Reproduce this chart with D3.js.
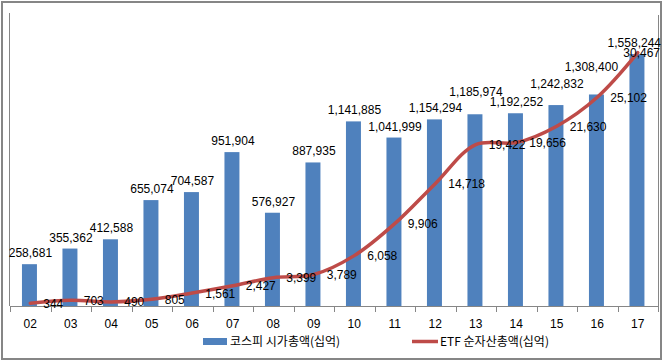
<!DOCTYPE html>
<html>
<head>
<meta charset="utf-8">
<script src="https://cdn.jsdelivr.net/npm/d3@7"></script>
<style>
  body { margin: 0; background: #fff; }
  svg text { font-family: "Liberation Sans", Arial, sans-serif; font-size: 12px; fill: #000; }
  .legend text { font-family: "Noto Sans CJK KR", "Liberation Sans", sans-serif; }
</style>
</head>
<body>
<div id="chart"></div>
<script>
  var years = ["02","03","04","05","06","07","08","09","10","11","12","13","14","15","16","17"];
  var kospiCap = [258681,355362,412588,655074,704587,951904,576927,887935,1141885,1041999,1154294,1185974,1192252,1242832,1308400,1558244];
  var etfAssets = [344,703,490,805,1561,2427,3399,3789,6058,9906,14718,19422,19656,21630,25102,30467];
  var seriesNames = ["코스피 시가총액(십억)", "ETF 순자산총액(십억)"];

(function() {
  var width = 665, height = 362;
  var plotLeft = 10, plotRight = 658, base = 306, plotTop = 15;

  // labels moved by hand in the original so they don't collide
  var labelNudges = { "13": [0, -11], "15": [0, -10], "16": [-6, -16] };

  var svg = d3.select("#chart")
            .append("svg")
            .attr("width", width)
            .attr("height", height);

  // outer frame
  svg.append("rect")
      .attr("x", 2).attr("y", 2)
      .attr("width", 659).attr("height", 357)
      .attr("fill", "none")
      .attr("stroke", "#868686")
      .attr("stroke-width", 2);

  var x = d3.scaleBand()
      .domain(years)
      .range([plotLeft, plotRight]);

  var y1 = d3.scaleLinear().domain([0, 1800000]).range([base, plotTop]);
  var y2 = d3.scaleLinear().domain([0, 35000]).range([base, plotTop]);

  var barW = x.step() * 0.37;
  var cx = function(d) { return x(d) + x.bandwidth() / 2 - 0.8; };

  // vertical axis lines (no ticks)
  svg.append("line")
      .attr("x1", plotLeft - 0.5).attr("x2", plotLeft - 0.5)
      .attr("y1", 13).attr("y2", base)
      .attr("stroke", "#868686");
  svg.append("line")
      .attr("x1", plotRight + 0.5).attr("x2", plotRight + 0.5)
      .attr("y1", plotTop).attr("y2", base)
      .attr("stroke", "#868686");

  // bars
  svg.selectAll(".bar")
      .data(years)
      .enter()
      .append("rect")
      .attr("class", "bar")
      .attr("x", function(d) { return cx(d) - barW / 2; })
      .attr("y", function(d, i) { return y1(kospiCap[i]); })
      .attr("width", barW)
      .attr("height", function(d, i) { return base - y1(kospiCap[i]); })
      .attr("fill", "#4F81BD");

  // x axis
  var xAxis = svg.append("g")
      .attr("transform", "translate(0," + base + ")")
      .call(d3.axisBottom(x).tickSizeInner(0).tickSizeOuter(0).tickPadding(13));
  xAxis.select(".domain").attr("stroke", "#868686");
  xAxis.selectAll("text").style("font-size", "12px");

  // boundary ticks
  svg.selectAll(".btick")
      .data(d3.range(years.length + 1))
      .enter()
      .append("line")
      .attr("class", "btick")
      .attr("x1", function(i) { return Math.round(plotLeft + i * x.step()) + 0.5; })
      .attr("x2", function(i) { return Math.round(plotLeft + i * x.step()) + 0.5; })
      .attr("y1", base).attr("y2", base + 6)
      .attr("stroke", "#868686");

  // ETF line
  var line = d3.line()
      .x(function(d, i) { return x(years[i]) + x.bandwidth() / 2; })
      .y(function(d) { return y2(d); })
      .curve(d3.curveCatmullRom.alpha(0.5));

  svg.append("path")
      .datum(etfAssets)
      .attr("d", line)
      .attr("fill", "none")
      .attr("stroke", "#BE4B48")
      .attr("stroke-width", 3.5)
      .attr("stroke-linecap", "round");

  var fmt = d3.format(",");
  var nudge = function(d, k) { return labelNudges[d] ? labelNudges[d][k] : 0; };

  // bar labels
  svg.selectAll(".blabel")
      .data(years)
      .enter()
      .append("text")
      .attr("class", "blabel")
      .attr("text-anchor", "middle")
      .attr("y", function(d, i) { return y1(kospiCap[i]) - 7 + nudge(d, 1); })
      .text(function(d, i) { return fmt(kospiCap[i]); })
      .attr("x", function(d) {
        var w = this.getComputedTextLength();
        return Math.min(cx(d) + 1 + nudge(d, 0), 661 - w / 2);
      });

  // line labels (to the right of points)
  svg.selectAll(".llabel")
      .data(years)
      .enter()
      .append("text")
      .attr("class", "llabel")
      .attr("y", function(d, i) { return y2(etfAssets[i]); })
      .attr("dy", "0.38em")
      .text(function(d, i) { return fmt(etfAssets[i]); })
      .attr("x", function(d, i) {
        var px = x(d) + x.bandwidth() / 2 + 13;
        var w = this.getComputedTextLength();
        return Math.min(px, 660 - w);
      });

  // legend
  var legend = svg.append("g").attr("class", "legend");
  legend.append("rect")
      .attr("x", 203).attr("y", 338)
      .attr("width", 24).attr("height", 7)
      .attr("fill", "#4F81BD");
  legend.append("text")
      .attr("x", 230).attr("y", 342)
      .attr("dy", "0.36em")
      .text(seriesNames[0]);
  legend.append("line")
      .attr("x1", 412).attr("x2", 438)
      .attr("y1", 341.5).attr("y2", 341.5)
      .attr("stroke", "#BE4B48")
      .attr("stroke-width", 3.5);
  legend.append("text")
      .attr("x", 440).attr("y", 342)
      .attr("dy", "0.36em")
      .text(seriesNames[1]);
})();
</script>
</body>
</html>
